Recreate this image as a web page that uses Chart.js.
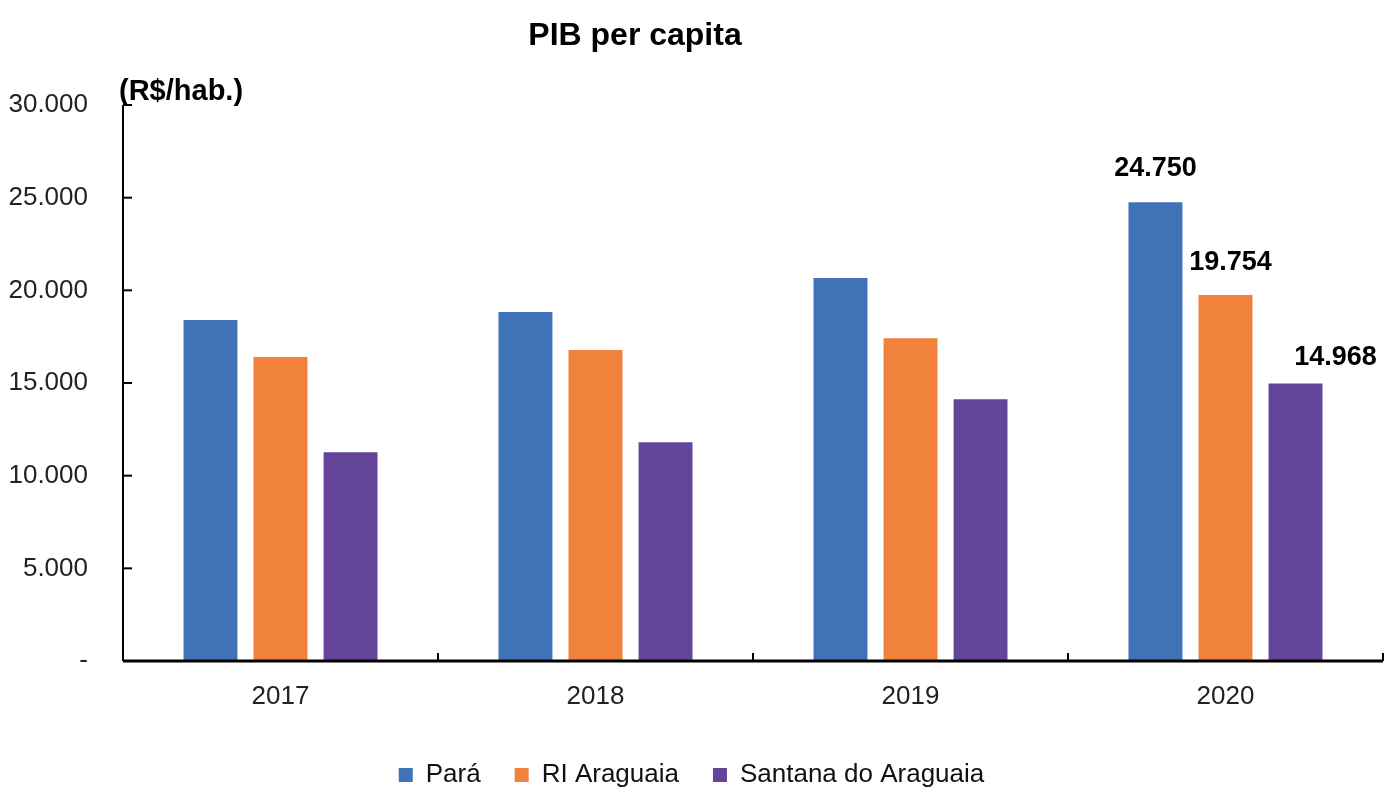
<!DOCTYPE html>
<html>
<head>
<meta charset="utf-8">
<script src="https://cdn.jsdelivr.net/npm/chart.js@4.4.1/dist/chart.umd.min.js"></script>
<style>
html,body{margin:0;padding:0;background:#fff;}
#wrap{width:1392px;height:787px;position:relative;}
</style>
</head>
<body>
<div id="wrap"><canvas id="barChart"></canvas></div>
<script>

//=============================
// DATA
//=============================

const years = ["2017", "2018", "2019", "2020"];

const para = [18400, 18830, 20670, 24750];
const riAraguaia = [16400, 16780, 17420, 19754];
const santana = [11260, 11800, 14120, 14968];

const seriesNames = ["Pará", "RI Araguaia", "Santana do Araguaia"];

const yTicks = [0, 5000, 10000, 15000, 20000, 25000, 30000];

// only the last year carries value labels
const labelledIndex = 3;

//=============================
// HELPERS
//=============================

const FONT = "'Liberation Sans Narrow','Arial Narrow','Liberation Sans',Arial,sans-serif";

function fmt(v){
    if(v === 0) return "-";
    return v.toString().replace(/\B(?=(\d{3})+(?!\d))/g, ".");
}

//=============================
// EXTRA DRAWING
//=============================

const extras = {
    id: "extras",
    afterDraw(chart){
        const ctx = chart.ctx;
        const x = chart.scales.x;
        const y = chart.scales.y;
        const area = chart.chartArea;

        ctx.save();
        ctx.strokeStyle = "#000";

        // y axis line + inward ticks
        ctx.lineWidth = 2;
        ctx.beginPath();
        ctx.moveTo(area.left, area.top);
        ctx.lineTo(area.left, area.bottom);
        ctx.stroke();

        yTicks.forEach(t => {
            const py = y.getPixelForValue(t);
            ctx.beginPath();
            ctx.moveTo(area.left, py);
            ctx.lineTo(area.left + 9, py);
            ctx.stroke();
        });

        // x axis line + ticks at category boundaries
        ctx.lineWidth = 3;
        ctx.beginPath();
        ctx.moveTo(area.left, area.bottom);
        ctx.lineTo(area.right, area.bottom);
        ctx.stroke();

        ctx.lineWidth = 2;
        for(let i = 0; i <= years.length; i++){
            const px = x.getPixelForValue(i - 0.5);
            ctx.beginPath();
            ctx.moveTo(px, area.bottom);
            ctx.lineTo(px, area.bottom - 8);
            ctx.stroke();
        }

        // title
        ctx.fillStyle = "#000";
        ctx.textAlign = "center";
        ctx.textBaseline = "middle";
        ctx.font = "bold 32px " + FONT;
        ctx.fillText("PIB per capita", 635, 36);

        // unit
        ctx.textAlign = "left";
        ctx.font = "bold 29px " + FONT;
        ctx.fillText("(R$/hab.)", 119, 92);

        // value labels on last group
        ctx.textAlign = "center";
        ctx.textBaseline = "middle";
        ctx.font = "bold 27px " + FONT;
        const shift = [0, 5, 40];
        const lift = [34, 32, 26];
        chart.data.datasets.forEach((ds, di) => {
            const bar = chart.getDatasetMeta(di).data[labelledIndex];
            ctx.fillText(fmt(ds.data[labelledIndex]), bar.x + shift[di], bar.y - lift[di]);
        });

        ctx.restore();
    }
};

//=============================
// CHART
//=============================

new Chart(document.getElementById("barChart"), {

    type: "bar",

    data: {
        labels: years,
        datasets: [
            { label: seriesNames[0], data: para, backgroundColor: "#4072b8" },
            { label: seriesNames[1], data: riAraguaia, backgroundColor: "#f0823c" },
            { label: seriesNames[2], data: santana, backgroundColor: "#644499" }
        ]
    },

    options: {
        responsive: true,
        maintainAspectRatio: false,
        animation: false,
        layout: {
            padding: { top: 105, right: 9, left: 0, bottom: -11 }
        },
        datasets: {
            bar: {
                categoryPercentage: 0.667,
                barPercentage: 0.77,
                borderWidth: 0
            }
        },
        plugins: {
            title: { display: false },
            tooltip: { enabled: false },
            legend: {
                position: "bottom",
                labels: {
                    boxWidth: 14,
                    boxHeight: 14,
                    padding: 34,
                    color: "#111",
                    font: { family: FONT, size: 26 }
                }
            }
        },
        scales: {
            x: {
                grid: { display: false, drawTicks: false },
                border: { display: false },
                ticks: {
                    padding: 20,
                    color: "#222",
                    font: { family: FONT, size: 26 }
                },
                afterFit(s){ s.height = 67; }
            },
            y: {
                min: 0,
                max: 30000,
                afterBuildTicks(s){ s.ticks = yTicks.map(v => ({ value: v })); },
                grid: { display: false, drawTicks: false },
                border: { display: false },
                ticks: {
                    padding: 35,
                    color: "#222",
                    font: { family: FONT, size: 26 },
                    callback: v => fmt(v)
                },
                afterFit(s){ s.width = 123; }
            }
        }
    },

    plugins: [extras]

});

</script>
</body>
</html>
